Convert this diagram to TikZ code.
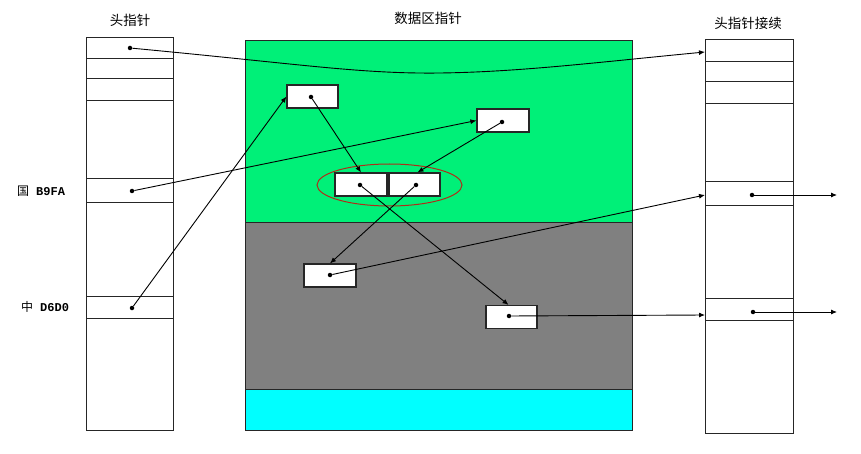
\documentclass[tikz,border=0pt]{standalone}
\usepackage{fontspec}
\setmainfont{Noto Sans CJK SC}
\newfontfamily\hexfont{Liberation Mono}
\usetikzlibrary{arrows.meta}
\definecolor{areagreen}{RGB}{0,240,120}
\definecolor{areagray}{RGB}{128,128,128}
\definecolor{areacyan}{RGB}{0,255,255}
\definecolor{ringred}{RGB}{175,45,25}
\begin{document}
\begin{tikzpicture}[x=1pt,y=-1pt,
  region/.style={draw=black!85,line width=1pt},
  column/.style={draw=black!85,line width=1pt,fill=white,inner sep=0pt},
  rowline/.style={draw=black!85,line width=1pt},
  cell/.style={draw=black!85,line width=1.2pt,fill=white,minimum height=23pt,inner sep=0pt},
  ptr/.style={circle,fill=black,inner sep=0pt,minimum size=4.5pt},
  link/.style={draw=black,line width=0.9pt,-{Latex[length=6pt,width=5pt]}},
  title/.style={font=\fontsize{13.5}{15}\selectfont,inner sep=0pt},
  key/.style={font=\fontsize{12}{13}\selectfont,anchor=west,inner sep=0pt}]
\useasboundingbox[fill=white] (0,0) rectangle (861,454);

% data area
\path[region,fill=areagreen] (245,41) rectangle (632,223);
\path[region,fill=areagray] (245,223) rectangle (632,389);
\path[region,fill=areacyan] (245,389) rectangle (632,430);

% titles
\node[title] (tL) at (130,20) {头指针};
\node[title] (tM) at (428,18) {数据区指针};
\node[title] (tR) at (748,23) {头指针接续};

% keys
\node[key] (k1) at (17,191) {国\hspace{7pt}{\hexfont\bfseries B9FA}};
\node[key] (k2) at (21,307) {中\hspace{7pt}{\hexfont\bfseries D6D0}};

% columns
\node[column,minimum width=87pt,minimum height=392pt] (colL) at (129.5,234) {};
\foreach \y in {59,79,101,179,203,296,318}
  \draw[rowline] (86,\y) -- (173,\y);
\node[column,minimum width=88pt,minimum height=393pt] (colR) at (749,236.5) {};
\foreach \y in {62,82,104,182,206,298,320}
  \draw[rowline] (705,\y) -- (793,\y);

% boxes
\node[cell,minimum width=51pt] (A) at (312.5,96.5) {};
\node[cell,minimum width=52pt] (B) at (503,120.5) {};
\node[cell,minimum width=52pt] (C1) at (361,184.5) {};
\node[cell,minimum width=51pt] (C2) at (414.5,184.5) {};
\node[cell,minimum width=52pt] (D) at (330,275.5) {};
\node[cell,minimum width=51pt] (E) at (511.5,317) {};

% ring
\draw[ringred,line width=1pt] (389.5,185) ellipse [x radius=72.5, y radius=21];

% pointer dots
\node[ptr] (dL1) at (130,48) {};
\node[ptr] (dL2) at (132,191) {};
\node[ptr] (dL3) at (132,308) {};
\node[ptr] (dA) at (311,97) {};
\node[ptr] (dB) at (502,122) {};
\node[ptr] (dC1) at (360,185) {};
\node[ptr] (dC2) at (416,185) {};
\node[ptr] (dD) at (330,275) {};
\node[ptr] (dE) at (509,316) {};
\node[ptr] (dR1) at (752,195) {};
\node[ptr] (dR2) at (753,312) {};

% free ends
\coordinate (rIn1) at (705,52);
\coordinate (rIn2) at (705,195);
\coordinate (rIn3) at (705,315);
\coordinate (out1) at (837,195);
\coordinate (out2) at (837,312);
\coordinate (sag) at (440,73);

% links
\draw[link] (dL1) .. controls (300,64) and (360,74) .. (sag)
  .. controls (520,72) and (600,62) .. (rIn1);
\draw[link] (dL3) -- (A.west);
\draw[link] (dL2) -- (B.west);
\draw[link] (dA) -- (C1.north);
\draw[link] (dB) -- ([xshift=3pt]C2.north);
\draw[link] (dC2) -- (D.north);
\draw[link] (dC1) -- ([xshift=-3pt]E.north);
\draw[link] (dD) -- (rIn2);
\draw[link] (dE) -- (rIn3);
\draw[link] (dR1) -- (out1);
\draw[link] (dR2) -- (out2);
\end{tikzpicture}
\end{document}
